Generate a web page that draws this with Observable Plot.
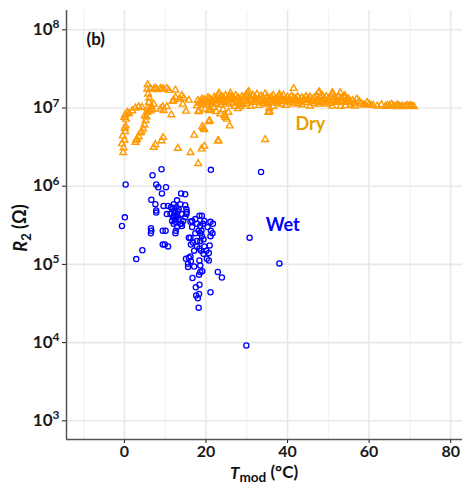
<!DOCTYPE html>
<html>
<head>
<meta charset="utf-8">
<script src="https://cdn.jsdelivr.net/npm/d3@7"></script>
<script src="https://cdn.jsdelivr.net/npm/@observablehq/plot@0.6"></script>
<style>
  html, body { margin: 0; padding: 0; background: #fff; }
  #chart svg { display: block; }
</style>
</head>
<body>
<div id="chart"></div>
<script>
// ---- Data ----
const wetT = [0.3,0.1,-0.6,2.9,4.4,9.1,6.9,7.8,8.3,10.2,9.2,6.6,7.6,9.6,10.7,7.8,7.8,10.4,6.5,6.6,6.5,9.4,10.1,9.4,9.9,10.7,
  12.1,12.9,12.7,11.7,12.5,12.1,12.9,13.7,13.3,14.1,12.5,12.5,11.7,12.9,12.6,12.5,13.7,14.1,14.9,15.2,15.3,14.9,15.2,11.3,11.9,12.2,13.1,14.0,14.4,12.8,13.3,12.1,11.4,
  13.9,14.9,
  16.6,16.2,17.4,18.4,19.0,19.6,21.1,21.7,17.8,18.6,19.3,20.4,21.2,21.6,21.1,16.6,17.4,18.6,19.0,17.8,18.6,19.4,15.8,16.2,16.8,16.3,17.8,18.4,18.8,19.6,20.1,20.7,20.9,17.1,19.4,18.2,18.9,
  15.1,15.8,16.2,15.6,15.6,16.3,17.1,18.4,18.6,20.2,20.7,18.3,18.6,19.1,16.7,17.5,18.4,17.6,18.0,18.3,18.2,21.1,22.9,23.9,30.7,33.5,21.2,38.0,29.9];
const wetR = [1.05e6,4.0e5,3.1e5,1.17e5,1.52e5,1.65e6,1.38e6,1.05e6,9.7e5,9.7e5,8.1e5,6.7e5,5.9e5,5.6e5,5.6e5,4.9e5,4.6e5,4.4e5,2.9e5,2.7e5,2.5e5,2.7e5,2.7e5,1.8e5,1.8e5,1.7e5,
  5.9e5,6.6e5,5.4e5,5.1e5,4.7e5,4.2e5,4.2e5,5.9e5,5.1e5,4.4e5,3.8e5,3.5e5,3.6e5,3.0e5,2.7e5,2.5e5,3.3e5,3.1e5,5.7e5,5.1e5,4.7e5,4.0e5,4.4e5,4.4e5,4.0e5,4.9e5,4.8e5,3.3e5,3.6e5,4.0e5,3.8e5,3.3e5,5.4e5,
  8.1e5,7.9e5,
  3.6e5,3.5e5,3.8e5,4.2e5,4.2e5,3.6e5,3.5e5,3.3e5,3.3e5,3.1e5,3.3e5,3.0e5,2.7e5,2.5e5,2.3e5,3.0e5,2.5e5,2.5e5,2.3e5,2.0e5,2.0e5,2.1e5,2.2e5,2.2e5,1.9e5,1.8e5,1.7e5,1.6e5,1.5e5,1.7e5,1.5e5,1.4e5,1.75e5,1.5e5,1.37e5,2.7e5,2.7e5,
  1.18e5,1.22e5,1.26e5,1.02e5,9.3e4,1.1e5,9.4e4,1.12e5,9.7e4,1.18e5,1.12e5,7.4e4,8.0e4,8.2e4,6.7e4,5.1e4,5.5e4,4.0e4,3.7e4,4.2e4,2.8e4,4.4e4,8.0e4,6.8e4,2.2e5,1.52e6,1.62e6,1.03e5,9.2e3];

const dryT = [-0.3,-0.2,-0.6,0.0,-0.4,0.2,0.1,0.3,0.0,0.2,0.7,1.1,0.4,1.9,2.7,3.5,4.3,
  2.7,3.1,3.5,3.9,4.6,4.9,5.2,5.4,5.6,5.7,6.0,6.1,5.8,5.6,5.7,2.9,4.2,5.0,6.3,6.6,
  6.4,7.2,8.0,8.8,9.6,10.4,10.9,12.5,7.6,9.2,
  7.2,7.6,9.1,9.5,8.8,9.6,10.4,9.4,6.8,7.2,6.4,
  11.5,12.1,12.5,14.1,14.5,15.8,14.3,15.1,13.5,11.8,
  13.1,16.2,17.1,18.1,18.9,19.6,19.1,19.6,20.7,22.9,25.8,34.5,19.4,20.9,23.1,
  18.3,17.8,19.8,20.7,21.9,23.5,24.5,25.1,25.5,24.2,27.8,28.4,35.3,35.5,35.3,22.5,24.8,21.0,18.1,35.6,
  18.0,18.5,19.0,19.6,20.0,20.5,21.0,21.5,22.0,22.5,23.0,23.3,23.8,24.3,24.8,25.3,25.8,26.3,26.8,27.3,27.8,28.3,28.8,29.3,29.8,30.2,30.6,31.0,31.5,32.0,32.5,33.0,33.5,34.0,34.5,35.0,35.5,36.0,36.5,37.0,37.5,38.0,38.5,39.0,39.5,40.0,40.5,41.0,41.5,42.0,42.5,43.0,43.5,44.0,44.5,45.0,45.5,46.0,46.5,47.0,47.5,48.0,48.5,49.0,49.5,50.0,50.5,51.0,51.5,52.0,52.5,53.0,53.5,54.0,54.5,55.0,55.5,56.0,56.5,57.0,57.5,58.0,59.0,59.5,60.0,60.5,62.0,63.0,64.0,65.0,65.5,66.0,66.5,67.0,67.5,68.5,69.0,69.5,70.0,70.5,71.0,
  18.5,19.5,20.5,21.5,22.5,23.5,24.5,25.5,26.5,27.0,28.0,29.0,30.0,31.0,32.0,33.0,34.0,35.0,36.5,37.5,38.5,39.5,40.5,41.5,42.5,43.5,44.5,45.5,46.5,47.5,48.5,49.5,50.5,51.0,52.0,53.0,54.2,55.5,56.5,
  41.5,47.6,51.0,53.7,47.8,52.9,54.1,30.5,26.0,23.2,34.5,38.0,
  19.2,20.2,21.2,22.2,23.2,24.2,25.2,26.2,27.2,28.2,29.2,30.2,31.2,32.2,33.2,34.2,35.2,36.2,37.2,38.2,39.2,40.2,41.2,42.2,43.2,44.2,45.2,46.2,47.2,48.2,49.2,50.2,51.2,52.2,53.2,54.2,55.2,58.5,61.0,64.5,66.8,68.0,70.2];
const dryR = [2.7e6,3.1e6,3.5e6,3.9e6,4.4e6,5.0e6,5.5e6,5.9e6,7.6e6,8.2e6,8.8e6,8.5e6,7.2e6,9.2e6,1.0e7,1.04e7,1.02e7,
  3.65e6,4.0e6,4.3e6,4.8e6,5.4e6,6.1e6,6.9e6,7.7e6,8.8e6,1.0e7,1.18e7,1.34e7,1.51e7,1.75e7,1.99e7,3.9e6,5.0e6,8.0e6,9.5e6,1.05e7,
  1.78e7,1.75e7,1.72e7,1.78e7,1.74e7,1.78e7,1.68e7,1.7e7,1.8e7,1.76e7,
  3.15e6,3.4e6,3.8e6,4.2e6,9.7e6,9.3e6,1.04e7,1.04e7,9.6e6,1.12e7,9.2e6,
  8.2e6,1.26e7,1.37e7,1.44e7,1.34e7,1.26e7,1.12e7,9.1e6,1.3e7,1.22e7,
  3.05e6,2.7e6,4.5e6,1.95e6,3.0e6,3.25e6,5.8e6,5.3e6,6.7e6,3.8e6,5.9e6,3.95e6,5.5e6,6.9e6,3.8e6,
  9.1e6,1.07e7,9.7e6,9.3e6,1.02e7,8.4e6,8.0e6,7.2e6,8.8e6,9.6e6,9.8e6,1.04e7,8.8e6,1.0e7,1.18e7,9.0e6,7.6e6,9.6e6,9.0e6,9.0e6,
  1.25e7,1.2e7,1.3e7,1.28e7,1.22e7,1.35e7,1.3e7,1.25e7,1.38e7,1.32e7,1.45e7,1.28e7,1.4e7,1.35e7,1.45e7,1.3e7,1.42e7,1.38e7,1.32e7,1.45e7,1.36e7,1.3e7,1.4e7,1.35e7,1.48e7,1.55e7,1.4e7,1.3e7,1.45e7,1.38e7,1.5e7,1.3e7,1.42e7,1.35e7,1.25e7,1.4e7,1.3e7,1.38e7,1.45e7,1.3e7,1.25e7,1.4e7,1.35e7,1.45e7,1.3e7,1.38e7,1.28e7,1.42e7,1.35e7,1.3e7,1.4e7,1.25e7,1.35e7,1.3e7,1.4e7,1.32e7,1.38e7,1.28e7,1.35e7,1.42e7,1.3e7,1.38e7,1.45e7,1.32e7,1.4e7,1.3e7,1.38e7,1.48e7,1.35e7,1.28e7,1.4e7,1.32e7,1.2e7,1.35e7,1.25e7,1.3e7,1.2e7,1.25e7,1.15e7,1.3e7,1.22e7,1.15e7,1.1e7,1.18e7,1.12e7,1.08e7,1.06e7,1.1e7,1.05e7,1.07e7,1.12e7,1.06e7,1.04e7,1.09e7,1.05e7,1.04e7,1.06e7,1.08e7,1.05e7,1.06e7,1.04e7,
  1.15e7,1.1e7,1.18e7,1.12e7,1.15e7,1.1e7,1.18e7,1.12e7,1.15e7,1.05e7,1.18e7,1.1e7,1.15e7,1.05e7,1.18e7,1.08e7,1.15e7,1.12e7,1.05e7,1.15e7,1.12e7,1.08e7,1.18e7,1.12e7,1.15e7,1.1e7,1.18e7,1.06e7,1.15e7,1.12e7,1.18e7,1.12e7,1.15e7,1.06e7,1.18e7,1.05e7,1.07e7,1.1e7,1.06e7,
  1.78e7,1.58e7,1.58e7,1.4e7,1.6e7,1.57e7,1.44e7,1.62e7,1.55e7,1.55e7,1.52e7,1.5e7,
  1.22e7,1.26e7,1.2e7,1.27e7,1.23e7,1.25e7,1.21e7,1.27e7,1.24e7,1.2e7,1.26e7,1.22e7,1.27e7,1.23e7,1.25e7,1.21e7,1.26e7,1.24e7,1.2e7,1.27e7,1.22e7,1.25e7,1.23e7,1.26e7,1.21e7,1.24e7,1.27e7,1.22e7,1.25e7,1.2e7,1.26e7,1.23e7,1.24e7,1.21e7,1.25e7,1.2e7,1.18e7,1.1e7,1.08e7,1.08e7,1.07e7,1.06e7,1.07e7];

const xTicks = [0, 20, 40, 60, 80];
const xGridMajor = [0, 20, 40, 60, 80];
const xGridMinor = [-10, 10, 30, 50, 70];
const yTicks = [1e3, 1e4, 1e5, 1e6, 1e7, 1e8];
const xDomain = [-14.2, 82.9];
const yDomain = [5.77e2, 1.766e8];

const labelText = ["Dry", "Wet"];
const labelT = [45.6, 38.8];
const labelR = [6.2e6, 3.2e5];
const labelColor = ["#E69F00", "#0000FF"];
const panelTag = "(b)";

// ---- Build tables ----
const wet = wetT.map((t, i) => ({T: t, R: wetR[i]}));
const dry = dryT.map((t, i) => ({T: t, R: dryR[i]}));
const labels = labelText.map((s, i) => ({s, T: labelT[i], R: labelR[i], c: labelColor[i]}));

const font = "Lato, 'Open Sans', sans-serif";

const chart = Plot.plot({
  width: 462,
  height: 485,
  marginLeft: 66,
  marginRight: 0,
  marginTop: 10,
  marginBottom: 46,
  style: {fontFamily: font, fontWeight: "bold", fontSize: "16px", color: "#1a1a1a", background: "#fff"},
  x: {domain: xDomain, ticks: xTicks, tickSize: 4, tickPadding: 2, label: null},
  y: {type: "log", domain: yDomain, ticks: yTicks, tickSize: 4, tickPadding: 3, label: null,
      tickFormat: d => "10^" + Math.round(Math.log10(d))},
  marks: [
    Plot.ruleX(xGridMinor, {stroke: "#f2f2f2", strokeWidth: 1.2}),
    Plot.ruleX(xGridMajor, {stroke: "#e8e8e8", strokeWidth: 1.6}),
    Plot.ruleY(yTicks, {stroke: "#e8e8e8", strokeWidth: 1.6}),
    Plot.ruleX([xDomain[0]], {stroke: "#555", strokeWidth: 1.5}),
    Plot.ruleY([yDomain[0]], {stroke: "#555", strokeWidth: 1.5}),
    Plot.dot(dry, {x: "T", y: "R", symbol: "triangle", r: 2.5, stroke: "#FF9900", strokeWidth: 1.4, fill: "none"}),
    Plot.dot(wet, {x: "T", y: "R", symbol: "circle", r: 2.6, stroke: "#0000FF", strokeWidth: 1.3, fill: "none"}),
    Plot.text(labels, {x: "T", y: "R", text: "s", fill: "c", fontSize: 18, fontWeight: "bold"}),
    Plot.text([panelTag], {frameAnchor: "top-left", dx: 20, dy: 22, text: d => d, fontSize: 17, fontWeight: "bold", fill: "#111"})
  ]
});

document.getElementById("chart").appendChild(chart);

// superscript exponents on the y tick labels
const svg = d3.select(chart.tagName.toLowerCase() === "svg" ? chart : chart.querySelector("svg"));
svg.selectAll("text").each(function () {
  const m = /^10\^(-?\d+)$/.exec(this.textContent.trim());
  if (m) {
    const s = d3.select(this);
    s.selectAll("*").remove();
    s.text("");
    s.append("tspan").attr("font-size", "17px").text("10");
    s.append("tspan").attr("dy", "-0.55em").attr("font-size", "12px").text(m[1]);
  }
});

// axis titles
const yt = svg.append("text")
  .attr("transform", "translate(27,228) rotate(-90)")
  .attr("text-anchor", "middle").attr("font-family", font).attr("font-weight", "bold")
  .attr("font-size", 18).attr("fill", "#111");
yt.append("tspan").attr("font-style", "italic").text("R");
yt.append("tspan").attr("dy", "0.3em").attr("font-size", "0.72em").text("2");
yt.append("tspan").attr("dy", "-0.3em").text(" (Ω)");

const xt = svg.append("text")
  .attr("x", 264).attr("y", 479)
  .attr("text-anchor", "middle").attr("font-family", font).attr("font-weight", "bold")
  .attr("font-size", 17).attr("fill", "#111");
xt.append("tspan").attr("font-style", "italic").text("T");
xt.append("tspan").attr("dy", "0.22em").attr("font-size", "0.8em").text("mod");
xt.append("tspan").attr("dy", "-0.22em").text(" (°C)");
</script>
</body>
</html>
